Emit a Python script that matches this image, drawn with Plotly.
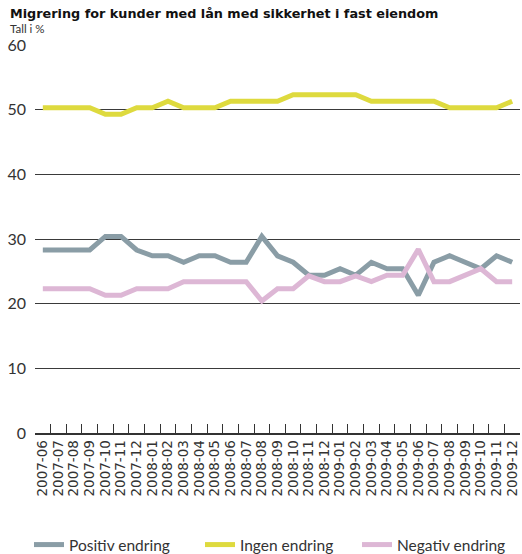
import plotly.graph_objects as go

months = ["2007-06", "2007-07", "2007-08", "2007-09", "2007-10", "2007-11", "2007-12",
          "2008-01", "2008-02", "2008-03", "2008-04", "2008-05", "2008-06", "2008-07",
          "2008-08", "2008-09", "2008-10", "2008-11", "2008-12", "2009-01", "2009-02",
          "2009-03", "2009-04", "2009-05", "2009-06", "2009-07", "2009-08", "2009-09",
          "2009-10", "2009-11", "2009-12"]

positiv = [28.3, 28.3, 28.3, 28.3, 30.4, 30.4, 28.3, 27.4, 27.4, 26.4, 27.4, 27.4, 26.4, 26.4,
           30.4, 27.4, 26.4, 24.4, 24.4, 25.4, 24.4, 26.4, 25.4, 25.4, 21.3, 26.4, 27.4, 26.4,
           25.4, 27.4, 26.4]
ingen = [50.3, 50.3, 50.3, 50.3, 49.3, 49.3, 50.3, 50.3, 51.3, 50.3, 50.3, 50.3, 51.3, 51.3,
         51.3, 51.3, 52.3, 52.3, 52.3, 52.3, 52.3, 51.3, 51.3, 51.3, 51.3, 51.3, 50.3, 50.3,
         50.3, 50.3, 51.3]
negativ = [22.3, 22.3, 22.3, 22.3, 21.3, 21.3, 22.3, 22.3, 22.3, 23.4, 23.4, 23.4, 23.4, 23.4,
           20.4, 22.3, 22.3, 24.3, 23.4, 23.4, 24.3, 23.4, 24.4, 24.4, 28.4, 23.4, 23.4, 24.4,
           25.4, 23.4, 23.4]

y_ticks = [0, 10, 20, 30, 40, 50, 60]

series = [
    ("Positiv endring", positiv, "#8A9DA6", "legend", 29),
    ("Ingen endring", ingen, "#DEDA3E", "legend2", 200),
    ("Negativ endring", negativ, "#DDB7D5", "legend3", 357),
]

PLOT_L, PLOT_W = 35, 485
PLOT_T, PLOT_B = 45, 433
PLOT_H = PLOT_B - PLOT_T

fig = go.Figure()
legend_layout = {}
for name, vals, color, leg, px in series:
    fig.add_trace(go.Scatter(x=months, y=vals, name=name, mode="lines", legend=leg,
                             line=dict(color=color, width=5)))
    legend_layout[leg] = dict(
        orientation="h", x=(px - PLOT_L) / PLOT_W, xanchor="left",
        y=-(545 - PLOT_B) / PLOT_H, yanchor="middle", bgcolor="rgba(0,0,0,0)",
        font=dict(family="Lato", size=15.5, color="#333333"), itemwidth=30)

fig.update_layout(
    width=522, height=554,
    margin=dict(l=PLOT_L, r=522 - PLOT_L - PLOT_W, t=PLOT_T, b=554 - PLOT_B,
                autoexpand=False),
    plot_bgcolor="white", paper_bgcolor="white",
    showlegend=True,
    **legend_layout,
)

fig.add_annotation(text="<b>Migrering for kunder med lån med sikkerhet i fast eiendom</b>",
                   xref="paper", yref="paper", x=(8 - PLOT_L) / PLOT_W, y=1,
                   xanchor="left", yanchor="bottom", yshift=22, showarrow=False,
                   font=dict(family="DejaVu Sans", size=12.8, color="#111111"))
fig.add_annotation(text="Tall i %", xref="paper", yref="paper", x=(8 - PLOT_L) / PLOT_W, y=1,
                   xanchor="left", yanchor="bottom", yshift=8, showarrow=False,
                   font=dict(family="Lato", size=11.5, color="#333333"))

fig.update_xaxes(
    type="category", range=[-0.5, 30.5], automargin=False,
    tickmode="array", tickvals=months, ticktext=months,
    tickson="boundaries", ticks="inside", ticklen=9, tickcolor="#333333",
    showline=True, linecolor="#333333", linewidth=1.5,
    showgrid=False, tickangle=-90,
    tickfont=dict(family="DejaVu Sans", size=13.5, color="#333333"),
)
fig.update_yaxes(
    range=[0, 60], tickmode="array", tickvals=y_ticks, automargin=False,
    showgrid=True, gridcolor="#3a3a3a", gridwidth=1.2,
    zeroline=False, showline=False, ticks="", ticklabelstandoff=8,
    tickfont=dict(family="Lato", size=16, color="#333333"),
)

fig.write_html("out.html")
